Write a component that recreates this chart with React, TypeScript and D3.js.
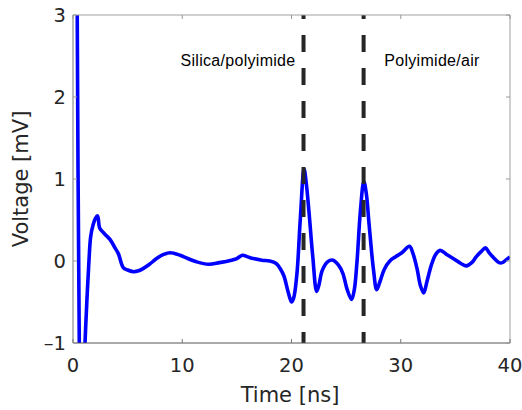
import React from 'react';
import * as d3 from 'd3';

// time [ns]
const time = [
  0.3, 0.38, 0.58, 0.7, 0.95, 1.1, 1.3, 1.46, 1.62, 1.86, 2.05, 2.25, 2.45, 2.9, 3.4, 3.8, 4.15, 4.6, 5.0, 5.5, 6.0,
  6.45, 7.0, 7.65, 8.3, 8.9, 9.8, 10.5, 11.3, 12.4, 13.4, 14.5, 15.0, 15.5, 16.0, 16.5, 17.3, 18.0, 18.6, 19.0, 19.3,
  19.7, 20.0, 20.2, 20.5, 20.8, 21.15, 21.35, 21.6, 21.95, 22.3, 22.5, 22.8, 23.3, 23.8, 24.3, 24.7, 25.1, 25.5, 25.75, 26.0,
  26.3, 26.62, 26.85, 27.1, 27.5, 27.8, 28.1, 28.5, 29.0, 29.5, 30.1, 30.8, 31.1, 31.5, 31.8, 32.1, 32.4, 32.8, 33.2, 33.6,
  34.2, 34.8, 35.5, 36.0, 36.5, 36.9, 37.4, 37.75, 38.1, 38.5, 39.0, 39.3, 39.7, 40.0,
];
// voltage [mV]
const voltage = [
  4.0, 3.2, -1.1, -1.6, -1.6, -1.0, -0.4, 0.0, 0.3, 0.45, 0.52, 0.55, 0.4, 0.33, 0.26, 0.17, 0.09, -0.08, -0.11, -0.13, -0.12,
  -0.09, -0.04, 0.03, 0.08, 0.1, 0.07, 0.03, -0.01, -0.04, -0.02, 0.01, 0.03, 0.07, 0.05, 0.03, 0.01, 0.0, -0.03, -0.1, -0.18,
  -0.38, -0.5, -0.45, -0.15, 0.5, 1.12, 0.95, 0.6, 0.05, -0.37, -0.3, -0.12, -0.01, 0.01, -0.05, -0.15, -0.35, -0.47, -0.35, 0.0,
  0.6, 0.97, 0.82, 0.45, -0.1, -0.35, -0.25, -0.1, 0.0, 0.05, 0.1, 0.18, 0.1, -0.1, -0.3, -0.39, -0.25, -0.05, 0.08, 0.13,
  0.08, 0.03, -0.03, -0.06, -0.02, 0.05, 0.12, 0.16, 0.1, 0.04, -0.02, -0.02, 0.02, 0.05,
];
const xTicks = [0, 10, 20, 30, 40];
const yTicks = [-1, 0, 1, 2, 3];
const interfaces = [21.1, 26.6];
const interfaceLabels = ['Silica/polyimide', 'Polyimide/air'];

const W = 522;
const H = 410;
const left = 73, right = 510, top = 15, bottom = 343;
const tickFont = '"DejaVu Sans", sans-serif';
const noteFont = '"Liberation Sans", Arial, sans-serif';

export default function App() {
  const x = d3.scaleLinear().domain([0, 40]).range([left, right]);
  const y = d3.scaleLinear().domain([-1, 3]).range([bottom, top]);
  const pts = time.map((t, i) => [t, voltage[i]] as [number, number]);
  const line = d3.line<[number, number]>()
    .x(d => x(d[0]))
    .y(d => y(d[1]))
    .curve(d3.curveCatmullRom.alpha(0.5));

  return (
    <div style={{ position: 'absolute', left: 0, top: 0 }}>
      <svg width={W} height={H} style={{ display: 'block', background: '#fff' }}>
        <defs>
          <clipPath id="plot">
            <rect x={left} y={top} width={right - left} height={bottom - top} />
          </clipPath>
        </defs>

        <g clipPath="url(#plot)">
          <path d={line(pts) || ''} fill="none" stroke="#0000ff" strokeWidth={3.6} strokeLinejoin="round" />
          {interfaces.map(t => (
            <line key={t} x1={x(t)} x2={x(t)} y1={top} y2={bottom}
              stroke="#262626" strokeWidth={4} strokeDasharray="17 16" strokeDashoffset={13} />
          ))}
        </g>

        {/* box */}
        <line x1={left} x2={right} y1={top} y2={top} stroke="#a0a0a0" strokeWidth={1} />
        <line x1={right} x2={right} y1={top} y2={bottom} stroke="#a0a0a0" strokeWidth={1} />
        <line x1={left} x2={right} y1={bottom} y2={bottom} stroke="#555" strokeWidth={1} />
        <line x1={left} x2={left} y1={top} y2={bottom} stroke="#bbb" strokeWidth={2} />

        {xTicks.map(t => (
          <g key={'x' + t}>
            <line x1={x(t)} x2={x(t)} y1={bottom} y2={bottom - 4} stroke="#777" />
            <line x1={x(t)} x2={x(t)} y1={top} y2={top + 4} stroke="#999" />
            <text x={x(t)} y={372} textAnchor="middle" fontFamily={tickFont} fontSize={19.5} fill="#262626">{t}</text>
          </g>
        ))}
        {yTicks.map(v => (
          <g key={'y' + v}>
            <line x1={left} x2={left + 4} y1={y(v)} y2={y(v)} stroke="#999" />
            <line x1={right} x2={right - 4} y1={y(v)} y2={y(v)} stroke="#999" />
            <text x={66} y={y(v)} dy="0.36em" textAnchor="end" fontFamily={tickFont} fontSize={19.5} fill="#262626">
              {v < 0 ? '\u2013' + Math.abs(v) : v}
            </text>
          </g>
        ))}

        <text x={290} y={402} textAnchor="middle" fontFamily={tickFont} fontSize={21} fill="#262626">Time [ns]</text>
        <text transform={`translate(28,${(top + bottom) / 2}) rotate(-90)`} textAnchor="middle" fontFamily={tickFont} fontSize={21} fill="#262626">Voltage [mV]</text>

        <text x={238} y={66} textAnchor="middle" fontFamily={noteFont} fontSize={16} letterSpacing={0.3} fill="#000">{interfaceLabels[0]}</text>
        <text x={432} y={66} textAnchor="middle" fontFamily={noteFont} fontSize={16} letterSpacing={0.3} fill="#000">{interfaceLabels[1]}</text>
      </svg>
    </div>
  );
}
